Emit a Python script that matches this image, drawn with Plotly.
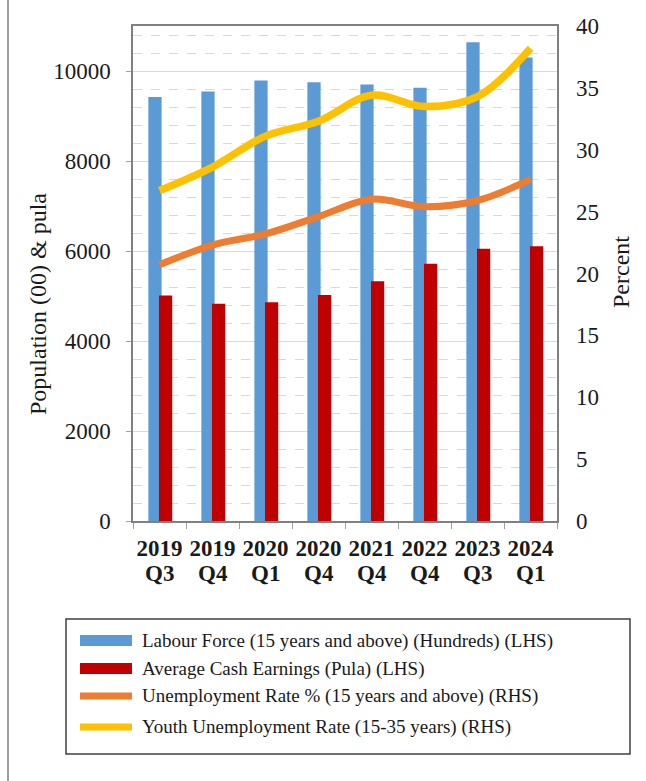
import plotly.graph_objects as go

categories = ["2019 Q3", "2019 Q4", "2020 Q1", "2020 Q4", "2021 Q4", "2022 Q4", "2023 Q3", "2024 Q1"]
labour_force = [9420, 9545, 9790, 9750, 9700, 9630, 10640, 10300]
cash_earnings = [5010, 4830, 4860, 5025, 5330, 5715, 6050, 6105]
unemployment_rate = [20.7, 22.3, 23.2, 24.6, 26.0, 25.4, 25.9, 27.6]
youth_unemployment = [26.7, 28.6, 31.1, 32.3, 34.4, 33.5, 34.3, 38.2]

series_names = [
    "Labour Force (15 years and above) (Hundreds) (LHS)",
    "Average Cash Earnings (Pula) (LHS)",
    "Unemployment Rate % (15 years and above) (RHS)",
    "Youth Unemployment Rate (15-35 years) (RHS)",
]
colors = ["#5B9BD5", "#C00000", "#ED7D31", "#FFC000"]

FONT = "Liberation Serif"
W, H = 646, 781
L, R, T, B = 133, 89, 26, 260
PW, PH = W - L - R, H - T - B


def px_x(p):
    return (p - L) / PW


def px_y(p):
    return (H - B - p) / PH


fig = go.Figure()
fig.add_trace(go.Bar(x=categories, y=labour_force, name=series_names[0],
                     marker=dict(color=colors[0], line=dict(width=0)),
                     width=0.25, offset=-0.21, yaxis="y"))
fig.add_trace(go.Bar(x=categories, y=cash_earnings, name=series_names[1],
                     marker=dict(color=colors[1], line=dict(width=0)),
                     width=0.25, offset=-0.01, yaxis="y"))
fig.add_trace(go.Scatter(x=categories, y=unemployment_rate, name=series_names[2],
                         mode="lines", line=dict(color=colors[2], width=7, shape="spline", smoothing=1),
                         yaxis="y2"))
fig.add_trace(go.Scatter(x=categories, y=youth_unemployment, name=series_names[3],
                         mode="lines", line=dict(color=colors[3], width=7.5, shape="spline", smoothing=1),
                         yaxis="y2"))

years = [c.split(" ")[0] for c in categories]
quarters = [c.split(" ")[1] for c in categories]

annotations = []
for c, q in zip(categories, quarters):
    annotations.append(dict(x=c, xref="x", y=px_y(573), yref="paper", text="<b>%s</b>" % q,
                            showarrow=False, yanchor="middle", xanchor="center",
                            font=dict(family=FONT, size=23, color="#1a1a1a")))

annotations.append(dict(x=px_x(38), xref="paper", y=px_y(304), yref="paper",
                        text="Population (00) & pula", textangle=-90, showarrow=False,
                        xanchor="center", yanchor="middle",
                        font=dict(family=FONT, size=24, color="#1a1a1a")))
annotations.append(dict(x=px_x(621), xref="paper", y=px_y(272), yref="paper",
                        text="Percent", textangle=-90, showarrow=False,
                        xanchor="center", yanchor="middle",
                        font=dict(family=FONT, size=24, color="#1a1a1a")))

# custom legend
shapes = []
leg_rows = [640.5, 668.5, 696, 727]
shapes.append(dict(type="rect", xref="paper", yref="paper",
                   x0=px_x(66), x1=px_x(630), y0=px_y(619), y1=px_y(754),
                   line=dict(color="#404040", width=1.5), fillcolor="rgba(0,0,0,0)"))
for i, (nm, yc) in enumerate(zip(series_names, leg_rows)):
    half = 5.5 if i < 2 else 3.5
    shapes.append(dict(type="rect", xref="paper", yref="paper",
                       x0=px_x(80), x1=px_x(132), y0=px_y(yc - half), y1=px_y(yc + half),
                       line=dict(width=0), fillcolor=colors[i]))
    annotations.append(dict(x=px_x(140), xref="paper", y=px_y(yc), yref="paper",
                            text=nm, showarrow=False, xanchor="left", yanchor="middle",
                            font=dict(family=FONT, size=19, color="#1a1a1a")))

# outer frame left line
shapes.append(dict(type="line", xref="paper", yref="paper",
                   x0=px_x(8), x1=px_x(8), y0=px_y(0), y1=px_y(H),
                   line=dict(color="#808080", width=1.5)))

fig.update_layout(
    width=W, height=H,
    margin=dict(l=L, r=R, t=T, b=B, pad=0),
    paper_bgcolor="white", plot_bgcolor="white",
    barmode="overlay",
    showlegend=False,
    font=dict(family=FONT, color="#1a1a1a"),
    xaxis=dict(type="category", range=[-0.5, 7.5], tickmode="array",
               tickvals=categories, ticktext=["<b>%s</b>" % y for y in years],
               tickangle=0,
               tickson="boundaries", ticks="outside", ticklen=6, tickcolor="#a0a0a0",
               showline=True, linecolor="#808080", linewidth=1.5, mirror=True,
               showgrid=False, tickfont=dict(family=FONT, size=23, color="#1a1a1a"),
               ticklabelstandoff=6),
    yaxis=dict(range=[0, 11000], dtick=2000, tick0=0, tickformat="d",
               showgrid=True, gridcolor="#d9d9d9",
               gridwidth=1, ticks="outside", ticklen=5, tickcolor="#a0a0a0",
               showline=True, linecolor="#808080", linewidth=1.5, mirror=True,
               zeroline=False, tickfont=dict(family=FONT, size=23, color="#1a1a1a"),
               ticklabelstandoff=11,
               minor=dict(dtick=400, tick0=0, showgrid=True, griddash="dash",
                          gridcolor="#d9d9d9", gridwidth=1, ticks="")),
    yaxis2=dict(range=[0, 40], dtick=5, tick0=0, overlaying="y", side="right",
                showgrid=False, zeroline=False, showline=False, ticks="",
                tickfont=dict(family=FONT, size=23, color="#1a1a1a"),
                ticklabelstandoff=18),
    annotations=annotations,
    shapes=shapes,
)

fig.write_html("out.html")
